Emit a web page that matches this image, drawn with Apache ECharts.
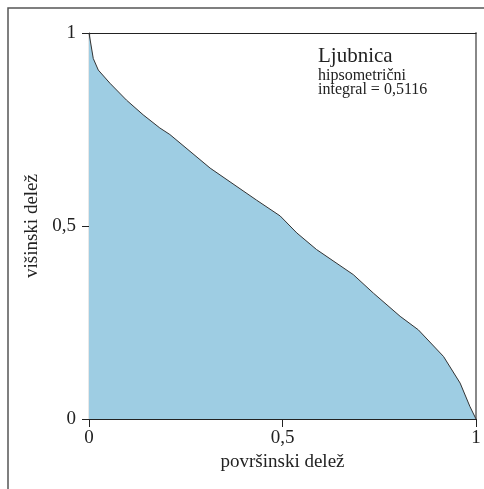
<!DOCTYPE html>
<html>
<head>
<meta charset="utf-8">
<script src="https://cdn.jsdelivr.net/npm/echarts@6/dist/echarts.min.js"></script>
<style>
html,body{margin:0;padding:0;background:#fff;}
#chart{width:484px;height:489px;}
</style>
</head>
<body>
<div id="chart"></div>
<script>
// Hypsometric curve of Ljubnica: area share (x) vs. height share (y)
const areaShare = [0, 0.011, 0.024, 0.054, 0.097, 0.140, 0.183, 0.209, 0.313, 0.433, 0.494, 0.537, 0.588, 0.683, 0.735, 0.804, 0.851, 0.916, 0.959, 0.984, 1.0];
const heightShare = [1, 0.934, 0.904, 0.870, 0.826, 0.788, 0.754, 0.737, 0.650, 0.567, 0.526, 0.482, 0.439, 0.374, 0.326, 0.266, 0.231, 0.162, 0.093, 0.033, 0];
const tickValues = [0, 0.5, 1];
const basinName = 'Ljubnica';
const integralText = 'hipsometrični\nintegral = 0,5116';
const xName = 'površinski delež';
const yName = 'višinski delež';

const FONT = '"Liberation Serif", "DejaVu Serif", serif';
const fmt = v => String(v).replace('.', ',');

const chart = echarts.init(document.getElementById('chart'), null, {renderer: 'canvas'});
chart.setOption({
  animation: false,
  backgroundColor: '#fff',
  grid: {left: 89, right: 8, top: 33, bottom: 70},
  xAxis: [{
    type: 'value', min: 0, max: 1, interval: 0.5,
    name: xName, nameLocation: 'middle', nameGap: 33,
    nameTextStyle: {fontFamily: FONT, fontSize: 19, color: '#222'},
    axisLine: {show: true, onZero: false, lineStyle: {color: '#222', width: 1.2}},
    axisTick: {show: true, length: 8, lineStyle: {color: '#222'}},
    axisLabel: {formatter: fmt, margin: 10, fontFamily: FONT, fontSize: 19, color: '#222'},
    splitLine: {show: false}
  }, {
    type: 'value', min: 0, max: 1, position: 'top',
    axisLine: {show: true, onZero: false, lineStyle: {color: '#222', width: 1.2}},
    axisTick: {show: false}, axisLabel: {show: false}, splitLine: {show: false}
  }],
  yAxis: [{
    type: 'value', min: 0, max: 1, interval: 0.5,
    name: yName, nameLocation: 'middle', nameGap: 47,
    nameTextStyle: {fontFamily: FONT, fontSize: 19, color: '#222'},
    axisLine: {show: true, onZero: false, lineStyle: {color: '#222', width: 1.2}},
    axisTick: {show: true, length: 7, lineStyle: {color: '#222'}},
    axisLabel: {formatter: fmt, margin: 13, fontFamily: FONT, fontSize: 19, color: '#222'},
    splitLine: {show: false}
  }, {
    type: 'value', min: 0, max: 1, position: 'right',
    axisLine: {show: true, onZero: false, lineStyle: {color: '#888', width: 2}},
    axisTick: {show: false}, axisLabel: {show: false}, splitLine: {show: false}
  }],
  graphic: [
    {type: 'rect', z: -10, silent: true,
     shape: {x: 8, y: 8, width: 700, height: 700},
     style: {fill: 'none', stroke: '#555', lineWidth: 1.5}},
    {type: 'text', left: 318, top: 46,
     style: {text: basinName, font: '21px ' + FONT, fill: '#222'}},
    {type: 'text', left: 318, top: 68,
     style: {text: integralText, font: '16px ' + FONT, lineHeight: 14, fill: '#222'}}
  ],
  series: [{
    type: 'line',
    data: areaShare.map((x, i) => [x, heightShare[i]]),
    showSymbol: false,
    smooth: false,
    lineStyle: {color: '#333', width: 1},
    areaStyle: {color: '#9ecde3', opacity: 1},
    z: 1
  }]
});
</script>
</body>
</html>
